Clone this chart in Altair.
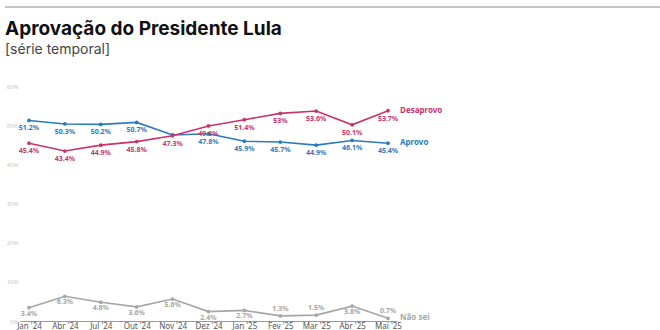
import altair as alt
import pandas as pd

meses = ["Jan '24", "Abr '24", "Jul '24", "Out '24", "Nov '24", "Dez '24",
         "Jan '25", "Fev '25", "Mar '25", "Abr '25", "Mai '25"]
aprovo = [51.2, 50.3, 50.2, 50.7, 47.5, 47.8, 45.9, 45.7, 44.9, 46.1, 45.4]
aprovo_rotulo = ["51.2%", "50.3%", "50.2%", "50.7%", "", "47.8%", "45.9%", "45.7%", "44.9%", "46.1%", "45.4%"]
desaprovo = [45.4, 43.4, 44.9, 45.8, 47.3, 49.8, 51.4, 53.0, 53.6, 50.1, 53.7]
desaprovo_rotulo = ["45.4%", "43.4%", "44.9%", "45.8%", "47.3%", "49.8%", "51.4%", "53%", "53.6%", "50.1%", "53.7%"]
nao_sei = [3.4, 6.3, 4.8, 3.6, 5.6, 2.4, 2.7, 1.3, 1.5, 3.8, 0.7]
nao_sei_rotulo = ["3.4%", "6.3%", "4.8%", "3.6%", "5.6%", "2.4%", "2.7%", "1.3%", "1.5%", "3.8%", "0.7%"]
nao_sei_rotulo_acima = ["Fev '25", "Mar '25", "Mai '25"]
series = ["Desaprovo", "Aprovo", "Não sei"]
cores = ["#c8346b", "#2b7bbf", "#a6a6a6"]
y_ticks = [0, 10, 20, 30, 40, 50, 60]

rows = []
for nome, vals, rot in [("Aprovo", aprovo, aprovo_rotulo),
                        ("Desaprovo", desaprovo, desaprovo_rotulo),
                        ("Não sei", nao_sei, nao_sei_rotulo)]:
    for i, (m, v, r) in enumerate(zip(meses, vals, rot)):
        acima = nome == "Não sei" and m in nao_sei_rotulo_acima
        rows.append({"mes": m, "serie": nome, "valor": v, "rotulo": r,
                     "acima": acima, "ultimo": i == len(meses) - 1})
df = pd.DataFrame(rows)

W, H = 377, 235
x = alt.X("mes:O", sort=meses, title=None,
          scale=alt.Scale(type="point", padding=0.25),
          axis=alt.Axis(labelAngle=0, ticks=False, domain=True, domainColor="#9a9a9a",
                        domainWidth=1, labelColor="#555555", labelFontSize=8,
                        labelFont="Noto Sans", labelPadding=1, grid=False))
y = alt.Y("valor:Q", title=None,
          scale=alt.Scale(domain=[0, 60], nice=False, zero=True),
          axis=alt.Axis(values=y_ticks, ticks=False, domain=False, grid=False,
                        labelColor="#c8c8c8", labelFontSize=6, labelFont="Noto Sans",
                        labelExpr="datum.value + '%'", labelPadding=2,
                        labelAlign="right", labelFlush=False))
color = alt.Color("serie:N", scale=alt.Scale(domain=series, range=cores), legend=None)

base = alt.Chart(df)
lines = base.mark_line(strokeWidth=1.6).encode(x=x, y=y, color=color, detail="serie:N")
points = base.mark_circle(size=14, opacity=1).encode(x=x, y=y, color=color)
labels_below = base.transform_filter("datum.serie != 'Não sei'").mark_text(
    dy=8, fontSize=7, fontWeight="bold", font="Noto Sans", baseline="middle"
).encode(x=x, y=y, color=color, text="rotulo:N")
labels_ns_below = base.transform_filter("datum.serie == 'Não sei' && !datum.acima").mark_text(
    dy=6, fontSize=7, fontWeight="bold", font="Noto Sans", baseline="middle"
).encode(x=x, y=y, color=color, text="rotulo:N")
labels_above = base.transform_filter("datum.acima").mark_text(
    dy=-7, fontSize=7, fontWeight="bold", font="Noto Sans", baseline="middle"
).encode(x=x, y=y, color=color, text="rotulo:N")
end_labels = base.transform_filter("datum.ultimo").mark_text(
    dx=12, align="left", fontSize=8, fontWeight="bold", font="Noto Sans", baseline="middle"
).encode(x=x, y=y, color=color, text="serie:N")
top_rule = alt.Chart(pd.DataFrame({"a": [0]})).mark_rule(color="#888888", strokeWidth=1).encode(
    x=alt.value(-15), x2=alt.value(640), y=alt.value(-79))
title_txt = alt.Chart(pd.DataFrame({"t": ["Aprovação do Presidente Lula"]})).mark_text(
    align="left", baseline="alphabetic", font="Inter", fontSize=19, fontWeight="bold",
    color="#111111").encode(x=alt.value(-15), y=alt.value(-51), text="t:N")
subtitle_txt = alt.Chart(pd.DataFrame({"t": ["[série temporal]"]})).mark_text(
    align="left", baseline="alphabetic", font="Inter", fontSize=14,
    color="#444444").encode(x=alt.value(-15), y=alt.value(-32), text="t:N")

chart = alt.layer(top_rule, title_txt, subtitle_txt, lines, points,
                  labels_below, labels_ns_below, labels_above, end_labels).properties(
    width=W, height=H,
    padding={"left": 20, "top": 86, "right": 263, "bottom": 9},
    autosize=alt.AutoSizeParams(type="none"),
    background="white",
).configure_view(stroke=None)

chart.save("out.html", embed_options={"renderer": "svg", "actions": False})
